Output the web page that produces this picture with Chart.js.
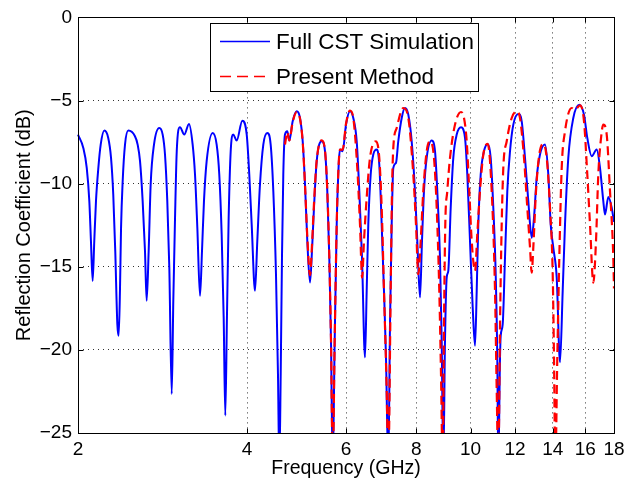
<!DOCTYPE html>
<html><head><meta charset="utf-8">
<script src="https://cdn.jsdelivr.net/npm/chart.js@4/dist/chart.umd.min.js"></script>
<style>html,body{margin:0;padding:0;background:#fff;}canvas{display:block;}</style>
</head><body>
<canvas id="c" width="639" height="484"></canvas>
<script>
// Full CST Simulation (blue)
const cstFreq = [2.0,2.044,2.073,2.095,2.109,2.124,2.138,2.153,2.174,2.195,2.228,2.264,2.290,2.311,2.330,2.350,2.363,2.376,2.386,2.402,2.425,2.458,2.526,2.554,2.579,2.607,2.632,2.650,2.672,2.694,2.731,2.791,2.830,2.857,2.884,2.908,2.937,2.956,2.977,2.998,3.038,3.092,3.152,3.200,3.231,3.262,3.298,3.325,3.352,3.389,3.474,3.531,3.569,3.604,3.634,3.658,3.683,3.709,3.740,3.780,3.833,3.922,3.994,4.036,4.076,4.132,4.171,4.217,4.275,4.345,4.406,4.454,4.503,4.540,4.565,4.591,4.615,4.640,4.672,4.717,4.756,4.822,4.902,4.969,5.024,5.072,5.120,5.177,5.219,5.262,5.321,5.431,5.505,5.557,5.603,5.642,5.682,5.728,5.776,5.823,5.854,5.919,6.000,6.099,6.182,6.269,6.336,6.407,6.486,6.531,6.574,6.639,6.710,6.805,6.877,6.945,7.011,7.069,7.136,7.186,7.236,7.284,7.365,7.434,7.539,7.641,7.746,7.854,7.961,8.037,8.126,8.193,8.260,8.352,8.525,8.642,8.723,8.820,8.882,8.941,9.003,9.066,9.126,9.216,9.315,9.446,9.614,9.773,9.865,9.975,10.086,10.182,10.253,10.320,10.422,10.564,10.726,10.858,10.975,11.083,11.156,11.202,11.281,11.313,11.406,11.514,11.623,11.753,11.913,12.159,12.330,12.498,12.668,12.846,12.968,13.112,13.290,13.566,13.750,13.886,14.035,14.232,14.426,14.586,14.725,14.925,15.234,15.614,15.917,16.134,16.428,16.768,16.996,17.228,17.348,17.585,17.831,18.0];
const cstDb = [-7.05,-7.85,-9.05,-11.05,-13.45,-15.85,-13.45,-11.05,-9.05,-7.65,-6.81,-7.25,-8.45,-10.65,-14.05,-18.45,-19.15,-16.25,-12.65,-9.85,-7.65,-6.81,-7.15,-7.65,-8.65,-11.05,-14.05,-17.05,-14.05,-10.05,-7.65,-6.65,-7.05,-8.25,-11.05,-15.05,-22.65,-17.05,-12.05,-8.05,-6.61,-7.05,-6.41,-7.65,-9.45,-12.65,-16.75,-14.05,-11.05,-8.65,-6.95,-7.65,-9.45,-13.05,-18.05,-23.95,-18.05,-12.05,-8.05,-7.05,-7.41,-6.21,-7.05,-9.45,-12.45,-16.45,-13.45,-10.05,-7.65,-6.95,-7.65,-10.45,-15.45,-21.45,-27,-21.45,-14.45,-9.45,-7.05,-6.85,-7.41,-6.25,-5.65,-6.05,-7.45,-10.05,-13.45,-15.95,-14.05,-11.45,-8.65,-7.45,-8.05,-10.45,-14.45,-19.45,-27,-19.45,-12.45,-8.85,-7.95,-8.05,-6.45,-5.65,-6.05,-7.45,-10.45,-14.45,-20.45,-16.45,-12.45,-9.45,-8.25,-7.95,-8.85,-12.45,-16.45,-20.45,-27,-18.45,-12.45,-9.05,-8.75,-7.45,-6.05,-5.45,-5.85,-7.45,-10.45,-13.45,-16.85,-13.45,-10.45,-8.45,-7.41,-8.05,-10.45,-14.45,-19.45,-27,-19.45,-15.65,-15.25,-11.45,-8.45,-7.05,-6.61,-7.25,-9.45,-13.45,-17.45,-19.75,-16.45,-12.45,-9.45,-8.05,-7.61,-8.45,-11.45,-15.45,-20.45,-27,-20.45,-19.15,-18.45,-14.45,-10.45,-8.05,-6.45,-5.81,-6.25,-8.45,-11.05,-13.25,-12.05,-9.65,-8.25,-7.65,-9.45,-12.45,-13.85,-15.65,-20.75,-16.45,-12.45,-8.45,-6.05,-5.25,-5.85,-7.25,-8.35,-7.95,-9.05,-11.05,-11.85,-10.81,-11.45,-12.3];

// Present Method (red dashed)
const pmFreq = [4.672,4.717,4.756,4.822,4.902,4.969,5.024,5.072,5.120,5.177,5.219,5.262,5.321,5.431,5.505,5.557,5.603,5.642,5.682,5.728,5.776,5.823,5.854,5.919,6.000,6.099,6.182,6.284,6.354,6.410,6.459,6.531,6.620,6.785,6.877,6.945,7.011,7.089,7.136,7.206,7.245,7.284,7.386,7.588,7.746,7.906,7.994,8.070,8.149,8.237,8.352,8.466,8.606,8.702,8.795,8.857,8.919,8.966,9.014,9.088,9.190,9.380,9.614,9.733,9.841,9.946,10.045,10.182,10.278,10.392,10.534,10.726,10.903,11.052,11.129,11.202,11.281,11.359,11.434,11.595,11.835,12.080,12.244,12.447,12.616,12.757,12.846,12.930,13.074,13.252,13.471,13.661,13.847,14.001,14.075,14.151,14.267,14.385,14.527,14.725,15.135,15.341,15.658,15.917,16.134,16.314,16.536,16.720,16.878,17.045,17.228,17.470,17.707,17.949,18.0];
const pmDb = [-7.65,-6.9,-7.4,-6.3,-5.7,-6.1,-7.5,-10.1,-13.2,-15.5,-13.7,-11.2,-8.6,-7.4,-8.0,-10.4,-14.4,-19.4,-27,-19.4,-12.4,-8.8,-7.95,-7.95,-6.4,-5.6,-6.05,-9.05,-12.45,-15.65,-13.45,-10.85,-8.45,-7.45,-8.45,-11.45,-16.45,-22.45,-27,-16.45,-10.45,-7.85,-6.65,-5.45,-6.05,-9.45,-12.45,-15.45,-13.45,-10.45,-8.05,-7.45,-8.45,-11.45,-16.45,-21.45,-27,-18.45,-12.45,-10.45,-8.45,-6.45,-5.69,-6.05,-7.45,-10.45,-13.45,-15.25,-13.05,-10.45,-8.25,-7.61,-10.45,-16.45,-22.45,-27,-18.45,-12.45,-9.05,-7.45,-6.05,-5.65,-6.05,-8.45,-11.45,-13.85,-15.35,-13.85,-10.45,-8.25,-7.61,-8.45,-11.45,-15.45,-20.45,-27,-20.45,-14.45,-9.05,-6.85,-5.45,-5.55,-5.29,-6.25,-9.45,-12.45,-15.95,-13.45,-9.45,-7.45,-6.45,-7.05,-10.45,-14.45,-16.3];

const xTicks = [2,4,6,8,10,12,14,16,18];
const yTicks = [-25,-20,-15,-10,-5,0];
const seriesNames = ['Full CST Simulation','Present Method'];
const xTitle = 'Frequency (GHz)';
const yTitle = 'Reflection Coefficient (dB)';

const FONT = '"Liberation Sans", Arial, Helvetica, sans-serif';

const toPts = (xs, ys) => xs.map((x, i) => ({x: x, y: ys[i]}));

const boxPlugin = {
  id: 'matlabBox',
  afterDatasetsDraw(chart) {
    const {ctx, chartArea: a, scales} = chart;
    ctx.save();
    ctx.strokeStyle = '#000';
    ctx.lineWidth = 1;
    ctx.setLineDash([]);
    const L = Math.round(a.left) + 0.5, R = Math.round(a.right) + 0.5;
    const T = Math.round(a.top) + 0.5, B = Math.round(a.bottom) + 0.5;
    ctx.strokeRect(L, T, R - L, B - T);
    const tl = 5;
    ctx.beginPath();
    xTicks.forEach(v => {
      const px = Math.round(scales.x.getPixelForValue(v)) + 0.5;
      ctx.moveTo(px, B); ctx.lineTo(px, B - tl);
      ctx.moveTo(px, T); ctx.lineTo(px, T + tl);
    });
    yTicks.forEach(v => {
      const py = Math.round(scales.y.getPixelForValue(v)) + 0.5;
      ctx.moveTo(L, py); ctx.lineTo(L + tl, py);
      ctx.moveTo(R, py); ctx.lineTo(R - tl, py);
    });
    ctx.stroke();
    ctx.restore();
  },
  afterDraw(chart) {
    const {ctx} = chart;
    const ds = chart.data.datasets;
    ctx.save();
    const bx = 210.5, by = 23.5, bw = 268, bh = 68;
    ctx.fillStyle = '#fff';
    ctx.fillRect(bx, by, bw, bh);
    ctx.strokeStyle = '#000';
    ctx.lineWidth = 1;
    ctx.strokeRect(bx, by, bw, bh);
    const rows = [41.5, 76.5];
    ds.forEach((d, i) => {
      const y = rows[i];
      ctx.beginPath();
      ctx.strokeStyle = d.borderColor;
      ctx.lineWidth = 1.5;
      ctx.setLineDash(d.borderDash ? [11, 6] : []);
      ctx.moveTo(220, y); ctx.lineTo(270, y);
      ctx.stroke();
      ctx.setLineDash([]);
      ctx.fillStyle = '#000';
      ctx.font = '22.4px ' + FONT;
      ctx.textBaseline = 'middle';
      ctx.textAlign = 'left';
      ctx.fillText(d.label, 276, y + 1);
    });
    ctx.restore();
  }
};

new Chart(document.getElementById('c'), {
  type: 'line',
  data: {
    datasets: [
      {label: seriesNames[0], data: toPts(cstFreq, cstDb), borderColor: '#0000ff', borderWidth: 2, pointRadius: 0, cubicInterpolationMode: 'monotone', order: 1, clip: 1},
      {label: seriesNames[1], data: toPts(pmFreq, pmDb), borderColor: '#ff0000', borderWidth: 2.2, borderDash: [9, 5], pointRadius: 0, cubicInterpolationMode: 'monotone', order: 0, clip: 1}
    ]
  },
  options: {
    responsive: false,
    animation: false,
    devicePixelRatio: 1,
    layout: {padding: {left: 0, right: 25, top: 16, bottom: 0}},
    plugins: {legend: {display: false}, tooltip: {enabled: false}},
    scales: {
      x: {
        type: 'logarithmic', min: 2, max: 18,
        afterBuildTicks: s => { s.ticks = xTicks.map(v => ({value: v})); },
        afterFit: s => { s.height = 51; },
        ticks: {autoSkip: false, maxRotation: 0, padding: 5, color: '#000', font: {family: FONT, size: 19}, callback: v => String(v)},
        grid: {color: '#333', lineWidth: 1, drawTicks: false},
        border: {display: false, dash: [1, 4]},
        title: {display: true, text: xTitle, color: '#000', font: {family: FONT, size: 19.5}, padding: {top: 0, bottom: 4}}
      },
      y: {
        type: 'linear', min: -25, max: 0,
        afterBuildTicks: s => { s.ticks = yTicks.map(v => ({value: v})); },
        afterFit: s => { s.width = 78; },
        ticks: {padding: 6, color: '#000', font: {family: FONT, size: 19}, callback: v => String(v).replace('-', '\u2212')},
        grid: {color: '#333', lineWidth: 1, drawTicks: false},
        border: {display: false, dash: [1, 4]},
        title: {display: true, text: yTitle, color: '#000', font: {family: FONT, size: 20}, padding: {top: 12, bottom: 0}}
      }
    }
  },
  plugins: [boxPlugin]
});
</script>
</body></html>
